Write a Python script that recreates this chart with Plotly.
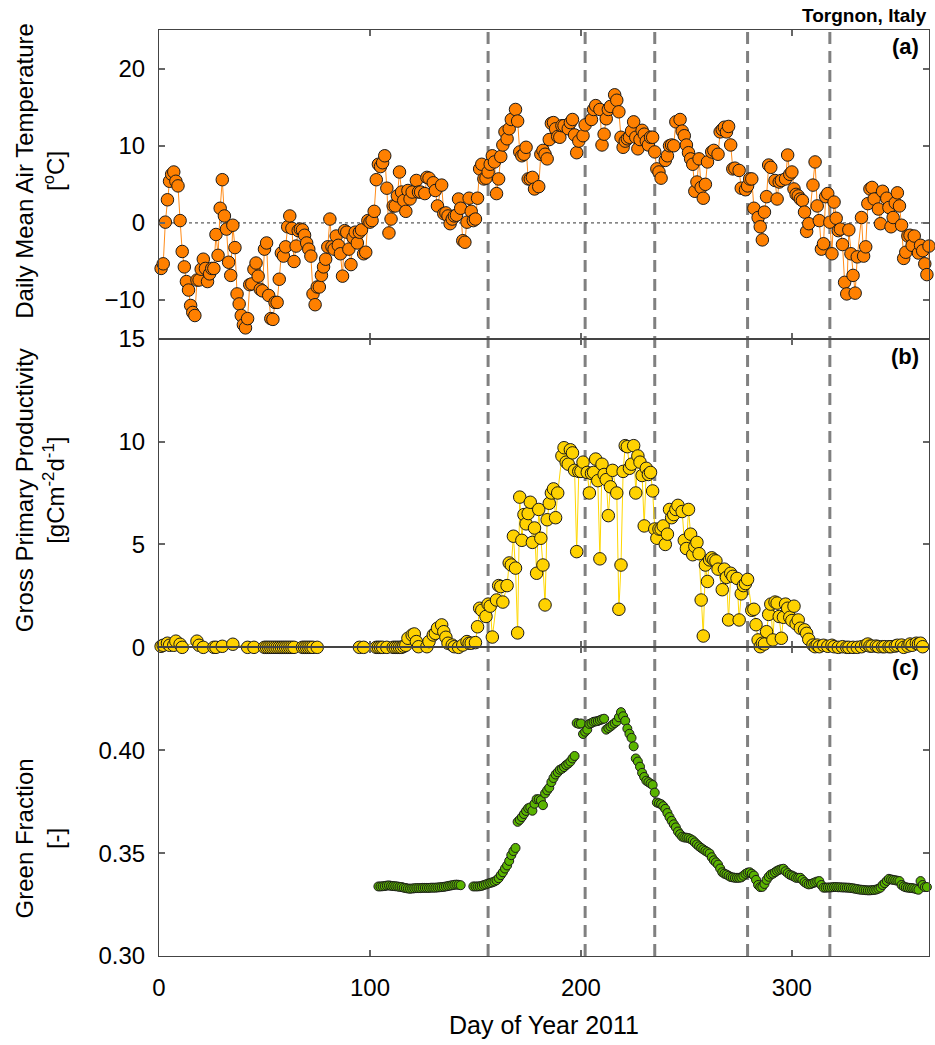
import plotly.graph_objects as go
from plotly.subplots import make_subplots

# ---------------- data ----------------
temp_day = list(range(1, 119)) + [
    119, 120, 122, 123, 124, 126, 127, 128, 130, 131, 132, 134, 135, 136, 137, 138, 139, 140,
    141, 142, 143, 144, 145, 146, 147, 148, 149, 150, 151, 152, 153, 154, 155, 156, 157, 158,
    159, 160, 161, 162, 163, 164, 165, 166, 167, 169, 170, 171, 172, 173, 174, 175, 176, 177,
    178, 180, 181, 182, 183, 184, 185, 186, 187, 188, 189, 190, 191, 192, 194, 195, 196, 197,
    198, 199, 201, 202, 205, 206, 207, 209, 210, 211, 212, 213, 214, 216, 217, 218, 219, 220,
    221, 222, 223, 224, 225, 226, 227, 228, 229, 230, 231, 232, 233, 234, 235, 236, 237, 238,
    240, 241, 242, 243, 244, 245, 247, 248, 249, 250, 251, 252, 253, 254, 255, 256, 257, 258,
    259, 260, 262, 263, 265, 266, 267, 268, 269, 270, 271, 272, 273, 275, 276, 278, 279, 280,
    281, 282, 284, 285, 286, 287, 288, 289, 290, 292, 293, 294, 295, 297, 298, 299, 300, 301,
    302, 303, 304, 305, 306, 307, 308, 310, 311, 312, 313, 314, 315, 316, 317, 318, 319, 320,
    321, 322, 323, 324, 325, 326, 327, 328, 329, 330, 331, 333, 334, 335, 336, 337, 338, 339,
    341, 342, 343, 345, 346, 347, 348, 349, 350, 351, 352, 353, 354, 355, 356, 357, 358, 360,
    361, 362, 363, 364, 365]
temp_val = [
    -5.9, -5.3, 0.1, 3.0, 5.4, 6.3, 6.6, 5.4, 4.8, 0.3, -3.7, -5.7, -7.6, -8.7, -10.7, -11.6,
    -12.0, -7.4, -7.4, -6.0, -4.7, -5.9, -7.6, -6.6, -5.9, -5.9, -1.5, -4.2, 1.9, 5.6, 0.9,
    -0.8, -5.1, -6.8, -0.3, -3.2, -9.2, -10.5, -12.0, -13.2, -13.6, -12.4, -8.0, -7.9, -6.0,
    -5.2, -6.9, -8.6, -8.8, -3.4, -2.6, -9.4, -12.4, -12.5, -10.3, -10.3, -7.3, -3.9, -4.3,
    -3.1, -0.5, 0.9, -0.7, -5.0, -3.0, -1.0, -0.8, -0.9, -1.6, -2.6, -3.4, -4.3, -9.2, -10.6,
    -8.3, -8.3, -6.8, -5.7, -4.7, -3.1, 0.5, -3.1, -3.4, -1.7, -2.9, -4.0, -6.9, -1.0, -1.2,
    -3.4, -5.4, -1.9, -1.2, -2.6, -1.2, -0.9, -4.0, -3.8, 0.3, 0.1, 0.3, 1.5, 5.6, 7.6, 7.3,
    7.8, 8.7, 4.5, -1.3, 0.5, 2.2, 2.2, 3.5, 6.6, 4.0, 2.9, 1.5, 4.2,
    3.1, 4.0, 5.5, 4.0, 4.0, 3.8, 5.9, 5.8, 5.2, 4.2, 2.2, 4.9, 1.2, 1.3, 0.9, -0.1, 0.5, 0.9,
    1.0, 3.1, 1.9, -2.3, -2.5, 0.1, 3.2, 1.5, 0.3, 0.5, 3.2, 7.0, 7.6, 5.7, 5.8, 6.6, 7.6, 8.7,
    7.9, 3.8, 5.7, 8.6, 10.1, 11.8, 10.9, 12.2, 13.4, 14.7, 13.2, 9.2, 8.7, 8.9, 9.8, 5.7, 5.7, 5.9,
    4.4, 4.7, 8.9, 9.4, 8.9, 8.3, 10.8, 12.9, 13.0, 12.2, 11.2, 11.1, 12.6, 12.6, 12.2, 13.0, 13.4, 11.4,
    9.1, 10.6, 11.3, 12.7, 13.4, 14.7, 15.2, 14.7, 10.1, 11.5, 13.5, 14.7, 15.1, 16.6, 15.9, 14.4, 11.1, 9.8,
    10.6, 10.9, 11.1, 11.9, 13.1, 11.1, 9.6, 10.8, 12.0, 11.5, 10.6, 10.1, 11.1, 11.1, 9.2, 7.0, 6.6, 5.8,
    8.1, 8.7, 10.0, 10.1, 10.0, 13.1, 13.4, 11.9, 11.3, 10.1, 9.1, 8.3, 7.6, 4.1, 5.3, 8.3, 4.6, 3.2,
    5.0, 7.9, 9.2, 9.4, 8.9, 11.8, 12.1, 12.4, 11.8, 12.5, 10.1, 7.0, 7.1, 6.8, 4.5, 4.3, 4.8, 5.7,
    5.7, 1.9, 0.7, -0.5, -2.2, 1.4, 3.4, 7.5, 7.2, 5.5, 3.1, 5.3, 5.5, 5.7, 8.8, 6.3, 6.6, 4.4,
    3.7, 3.5, 3.1, 2.9, 1.4, -1.1, -0.1, 4.9, 7.9, 2.2, 0.3, -3.4, -2.7, 3.4, 3.8, 0.1, -4.0, 2.7,
    0.6, -1.0, -0.8, -2.8, -7.7, -9.2, -0.9, -4.0, -6.8, -9.1, -4.4, 0.7, -4.3, -3.1, 2.5, 4.4, 4.6, 3.1,
    1.8, -0.1, 4.1, 3.2, 2.0, -0.5, 0.7, 2.6, 3.9, 2.2, -0.3, -4.6, -3.8, -1.7, -1.6, -2.9, -1.7, -3.9,
    -2.9, -3.6, -5.3, -6.7, -3.0]

gpp_day = [
    1, 2, 4, 5, 7, 8, 10, 11, 18, 19, 21, 26, 27, 30, 35, 42, 45,
    50, 51, 52, 53, 54, 55, 56, 57, 58, 59, 60, 61, 62, 63, 64, 68, 69, 70, 71, 72, 73, 75,
    95, 97, 103, 104, 105, 106, 108, 111, 112, 113, 114, 115, 116, 117, 118, 120, 121, 122, 123,
    127, 128, 130, 131, 132, 134, 135, 136, 137, 139, 140, 142, 144, 146, 147, 148, 150, 151,
    152, 153, 155, 156, 157, 158, 160, 161, 162, 163, 165, 166, 167, 168, 169, 170, 171, 172,
    173, 174, 175, 176, 177, 178, 179, 180, 181, 182, 183, 184, 185, 186, 187, 188, 189, 191,
    192, 193, 194, 195, 196, 197, 198, 199, 200, 201, 203, 204, 205, 206, 207, 208, 209, 210,
    211, 212, 213, 214, 215, 217, 218, 219, 220, 221, 222, 223, 224, 225, 226, 227, 228, 229,
    230, 231, 232, 233, 234, 235, 236, 237, 238, 239, 240, 241, 242, 243, 244, 245, 246, 248,
    249, 250, 251, 252, 253, 254, 255, 256, 257, 258, 259, 260, 261, 262, 263, 264, 265, 267,
    268, 269, 270, 271, 272, 274, 275, 276, 277, 278, 279, 281, 282, 283, 284, 285, 286, 287,
    288, 289, 290, 291, 292, 293, 294, 295, 296, 297, 298, 299, 300, 301, 302, 303, 304, 306,
    307, 308, 310, 311, 312, 313, 315, 317, 319, 320, 322, 324, 326, 327, 329, 331, 333, 335,
    336, 337, 338, 340, 341, 343, 344, 346, 347, 349, 350, 352, 353, 355, 356, 357, 359, 360,
    361, 362, 364]
gpp_val = [
    0.05, 0.1, 0.2, 0.1, 0.1, 0.3, 0.15, 0.0, 0.3, 0.1, 0.0, 0.0, 0.0, 0.05, 0.15, 0.0, 0.0,
    0.0, 0.0, 0.0, 0.0, 0.0, 0.0, 0.0, 0.0, 0.0, 0.0, 0.0, 0.0, 0.0, 0.0, 0.0, 0.0, 0.0, 0.0,
    0.0, 0.0, 0.0, 0.0,
    0.0, 0.0, 0.0, 0.0, 0.0, 0.0, 0.0, 0.0, 0.0, 0.0, 0.0, 0.0, 0.05, 0.1, 0.44, 0.6, 0.65, 0.28, 0.03,
    0.03, 0.28, 0.6, 0.68, 0.93, 1.09, 0.76, 0.49, 0.2, 0.11, 0.03, 0.0, 0.11, 0.28, 0.2, 0.2, 0.23,
    1.0, 1.9, 1.8, 1.5, 2.1, 2.0, 0.5, 2.3, 3.0, 2.95, 2.2, 3.0, 4.1, 4.0, 5.4, 3.85, 0.7, 7.3,
    5.2, 6.45, 6.0, 6.5, 7.05, 5.1, 5.8, 3.6, 6.7, 5.3, 4.0, 2.06, 6.2, 7.0, 7.5, 7.7, 6.3, 7.5,
    9.3, 9.7, 9.0, 8.9, 9.6, 9.45, 8.6, 4.65, 8.55, 8.55, 9.0, 8.5, 7.5, 8.45, 8.5, 9.15, 8.1, 4.3,
    8.9, 8.4, 8.15, 6.4, 7.8, 8.6, 7.5, 1.85, 4.0, 8.55, 9.8, 9.75, 8.7, 8.9, 9.8, 7.5, 9.3, 9.0,
    8.35, 5.9, 8.7, 8.4, 8.5, 7.6, 5.75, 5.3, 5.75, 5.75, 5.9, 5.0, 5.5, 6.7, 6.3, 6.45, 6.7, 6.9,
    6.6, 5.2, 4.8, 6.7, 5.5, 4.5, 4.9, 5.1, 4.55, 2.3, 0.55, 4.0, 3.2, 4.25, 4.35, 4.25, 4.2, 3.8,
    2.8, 3.8, 3.4, 1.33, 3.6, 3.45, 3.35, 1.33, 2.6, 3.0, 3.1, 3.3, 1.8, 1.85, 1.1, 0.36, 0.03, 0.2,
    0.16, 0.76, 1.6, 2.1, 0.36, 2.2, 2.15, 1.5, 0.44, 1.46, 2.1, 1.9, 1.46, 1.3, 2.0, 1.14, 1.33, 0.93,
    0.85, 0.68, 0.39, 0.11, 0.03, 0.11, 0.03, 0.1, 0.05, 0.1, 0.03, 0.0, 0.03, 0.0, 0.0, 0.0, 0.0, 0.03,
    0.1, 0.16, 0.06, 0.06, 0.06, 0.03, 0.03, 0.03, 0.03, 0.03, 0.06, 0.1, 0.11, 0.0, 0.06, 0.16, 0.1, 0.2,
    0.16, 0.2, 0.03]

gf_day = list(range(104, 144)) + list(range(149, 365))
gf_val = [
    0.3338, 0.3338, 0.3339, 0.3340, 0.3342, 0.3343, 0.3341, 0.3340, 0.3339, 0.3338, 0.3336, 0.3335,
    0.3332, 0.3330, 0.3328, 0.3327, 0.3328, 0.3329, 0.3330, 0.3330, 0.3330, 0.3331, 0.3331, 0.3331,
    0.3331, 0.3332, 0.3332, 0.3332, 0.3333, 0.3334, 0.3335, 0.3336, 0.3338, 0.3340, 0.3342, 0.3344,
    0.3346, 0.3347, 0.3346, 0.3344,
    0.3338, 0.3338, 0.3338, 0.3339, 0.3341, 0.3345, 0.3348, 0.3352, 0.3355, 0.3358, 0.3362, 0.3368,
    0.3378, 0.3393, 0.3407, 0.3425, 0.3440, 0.3462, 0.3490, 0.3510, 0.3525, 0.3652, 0.3662, 0.3675,
    0.3690, 0.3705, 0.3718, 0.3722, 0.3706, 0.3740, 0.3762, 0.3762, 0.3757, 0.3733, 0.3790, 0.3805,
    0.3818, 0.3845, 0.3865, 0.3882, 0.3893, 0.3905, 0.3910, 0.3918, 0.3928, 0.3935, 0.3945, 0.3960,
    0.3972, 0.4132, 0.4128, 0.4130, 0.4079, 0.4090, 0.4100, 0.4128, 0.4132, 0.4138, 0.4140, 0.4142,
    0.4146, 0.4150, 0.4153, 0.4100, 0.4108, 0.4115, 0.4124, 0.4132, 0.4140, 0.4160, 0.4185, 0.4165,
    0.4143, 0.4105, 0.4080, 0.4060, 0.4019, 0.3960, 0.3945, 0.3920, 0.3890, 0.3870, 0.3852, 0.3845,
    0.3838, 0.3831, 0.3794, 0.3746, 0.3742, 0.3738, 0.3728, 0.3715, 0.3695, 0.3675, 0.3657, 0.3640,
    0.3625, 0.3605, 0.3592, 0.3580, 0.3576, 0.3575, 0.3573, 0.3568, 0.3562, 0.3552, 0.3542, 0.3533,
    0.3525, 0.3518, 0.3511, 0.3505, 0.3498, 0.3480, 0.3465, 0.3455, 0.3444, 0.3425, 0.3407, 0.3400,
    0.3396, 0.3390, 0.3384, 0.3382, 0.3380, 0.3380, 0.3380, 0.3382, 0.3390, 0.3399, 0.3405, 0.3407,
    0.3400, 0.3391, 0.3370, 0.3345, 0.3335, 0.3336, 0.3350, 0.3370, 0.3385, 0.3396, 0.3400, 0.3407,
    0.3414, 0.3419, 0.3422, 0.3424, 0.3412, 0.3403, 0.3395, 0.3391, 0.3386, 0.3380, 0.3380, 0.3380,
    0.3370, 0.3359, 0.3352, 0.3348, 0.3350, 0.3354, 0.3358, 0.3362, 0.3364, 0.3345, 0.3332, 0.3332,
    0.3333, 0.3333, 0.3334, 0.3335, 0.3335, 0.3334, 0.3334, 0.3333, 0.3333, 0.3332, 0.3332, 0.3330,
    0.3329, 0.3327, 0.3325, 0.3323, 0.3322, 0.3321, 0.3320, 0.3319, 0.3319, 0.3320, 0.3321, 0.3323,
    0.3327, 0.3332, 0.3345, 0.3354, 0.3365, 0.3375, 0.3372, 0.3370, 0.3368, 0.3366, 0.3364, 0.3345,
    0.3338, 0.3334, 0.3332, 0.3331, 0.3330, 0.3328, 0.3325, 0.3322, 0.3364, 0.3345, 0.3335, 0.3335]

event_days = [156, 202, 235, 279, 318]

x_ticks = [0, 100, 200, 300]
temp_ticks = [-10, 0, 10, 20]
gpp_ticks = [0, 5, 10, 15]
gf_ticks = [0.30, 0.35, 0.40]

# ---------------- figure ----------------
FONT = "Liberation Sans, Arial, sans-serif"
fig = make_subplots(rows=3, cols=1, shared_xaxes=True, vertical_spacing=0)

fig.add_trace(go.Scatter(
    x=temp_day, y=temp_val, mode="lines+markers",
    line=dict(color="#FF8C1A", width=1),
    marker=dict(size=12.5, color="#FF8000", line=dict(color="#1a1a1a", width=1)),
    cliponaxis=False, showlegend=False), row=1, col=1)

fig.add_trace(go.Scatter(
    x=gpp_day, y=gpp_val, mode="lines+markers",
    line=dict(color="#FFD700", width=1),
    marker=dict(size=12.5, color="#FFD200", line=dict(color="#1a1a1a", width=1)),
    cliponaxis=False, showlegend=False), row=2, col=1)

fig.add_trace(go.Scatter(
    x=gf_day, y=gf_val, mode="markers",
    marker=dict(size=9, color="#5AB400", line=dict(color="#1a1a1a", width=1)),
    cliponaxis=False, showlegend=False), row=3, col=1)

axis_common = dict(showline=True, linecolor="#444", linewidth=1, mirror="ticks",
                   ticks="inside", ticklen=6, tickwidth=1.5, tickcolor="#666",
                   showgrid=False, zeroline=False,
                   tickfont=dict(family=FONT, size=24, color="black"))

for r in (1, 2, 3):
    fig.update_xaxes(range=[0, 365], tickvals=x_ticks, row=r, col=1, **axis_common)
fig.update_xaxes(showticklabels=True, ticklabelstandoff=10, row=3, col=1)

fig.update_yaxes(range=[-15, 25], tickvals=temp_ticks, ticklabelstandoff=8, row=1, col=1, **axis_common)
fig.update_yaxes(range=[0, 15], tickvals=gpp_ticks, ticklabelstandoff=8, row=2, col=1, **axis_common)
fig.update_yaxes(range=[0.30, 0.45], tickvals=gf_ticks, tickformat=".2f", ticklabelstandoff=8,
                 row=3, col=1, **axis_common)

shapes = []
for d in event_days:
    shapes.append(dict(type="line", xref="x", yref="paper", x0=d, x1=d, y0=0, y1=1,
                       line=dict(color="#808080", width=3, dash="12px,7px"), layer="below"))
shapes.append(dict(type="line", xref="x", yref="y", x0=0, x1=365, y0=0, y1=0,
                   line=dict(color="#333", width=1, dash="dot"), layer="below"))

title_font = dict(family=FONT, size=24, color="black")
annotations = [
    dict(text="Daily Mean Air Temperature<br>[<sup>o</sup>C]", x=-0.1545, y=0.848,
         xref="paper", yref="paper", textangle=-90, showarrow=False, font=title_font,
         xanchor="center", yanchor="middle"),
    dict(text="Gross Primary Productivity<br>[gCm<sup>-2</sup>d<sup>-1</sup>]", x=-0.1545, y=0.503,
         xref="paper", yref="paper", textangle=-90, showarrow=False, font=title_font,
         xanchor="center", yanchor="middle"),
    dict(text="Green Fraction<br>[-]", x=-0.1545, y=0.127,
         xref="paper", yref="paper", textangle=-90, showarrow=False, font=title_font,
         xanchor="center", yanchor="middle"),
    dict(text="Day of Year 2011", x=0.5, y=-0.0745, xref="paper", yref="paper",
         showarrow=False, font=dict(family=FONT, size=25, color="black"),
         xanchor="center", yanchor="middle"),
    dict(text="Torgnon, Italy", x=1.0, y=1.016, xref="paper", yref="paper",
         showarrow=False, font=dict(family=FONT, size=19, color="black", weight="bold"),
         xanchor="right", yanchor="middle"),
]
for lab, yy in (("(a)", 0.982), ("(b)", 0.647), ("(c)", 0.312)):
    annotations.append(dict(text=lab, x=0.9896, y=yy, xref="paper", yref="paper",
                            showarrow=False,
                            font=dict(family=FONT, size=22, color="black", weight="bold"),
                            xanchor="right", yanchor="middle"))

fig.update_layout(
    width=935, height=1045,
    margin=dict(l=159, r=6, t=30, b=89),
    plot_bgcolor="white", paper_bgcolor="white",
    font=dict(family=FONT, color="black"),
    shapes=shapes, annotations=annotations,
)

fig.write_html("out.html")
